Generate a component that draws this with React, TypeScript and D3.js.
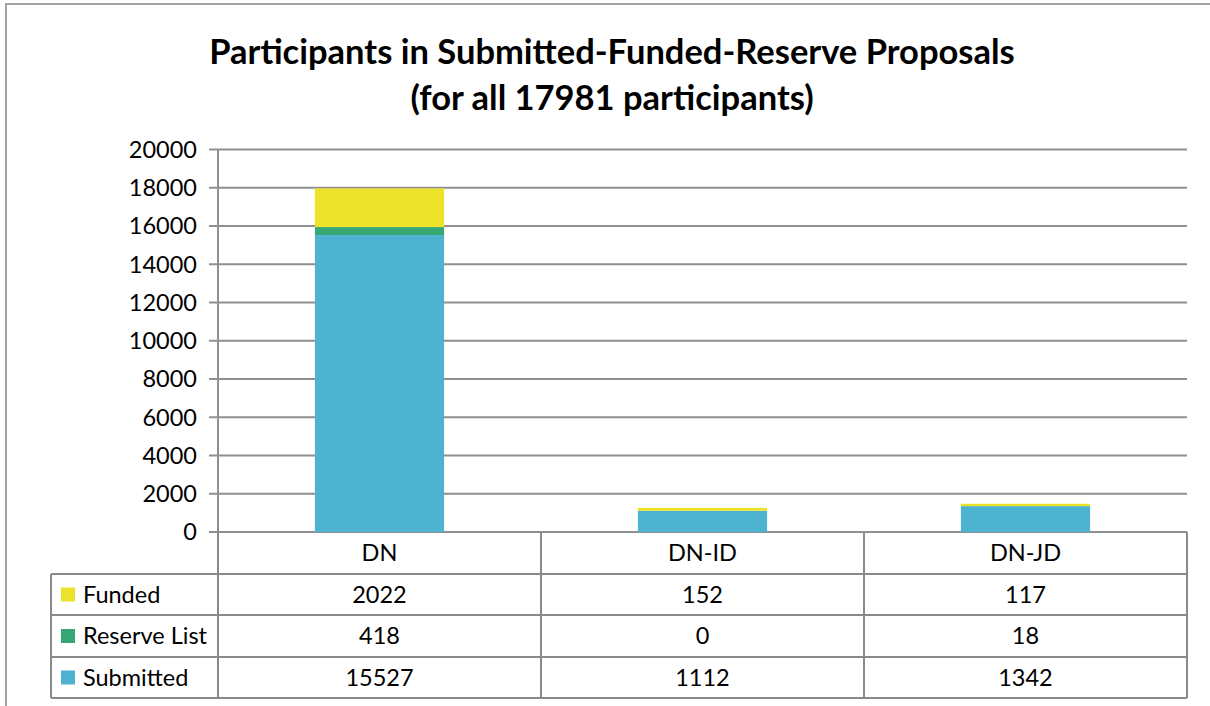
import React from "react";
import * as d3 from "d3";

const categories = ["DN", "DN-ID", "DN-JD"];
const seriesNames = ["Funded", "Reserve List", "Submitted"];
const funded = [2022, 152, 117];
const reserve = [418, 0, 18];
const submitted = [15527, 1112, 1342];
const yTicks = [0, 2000, 4000, 6000, 8000, 10000, 12000, 14000, 16000, 18000, 20000];
const titleLines = ["Participants in Submitted-Funded-Reserve Proposals", "(for all 17981 participants)"];

const colors: Record<string, string> = {
  Funded: "#ECE229",
  "Reserve List": "#37A873",
  Submitted: "#4EB3D1",
};

const W = 1210;
const H = 706;
const FONT = "Lato, 'Noto Sans', sans-serif";
const FS = 23.5;

export default function App() {
  const plotL = 218;
  const plotR = 1187;
  const y0 = 532;
  const yTop = 149.5;
  const x = d3.scaleBand<string>().domain(categories).range([plotL, plotR]).padding(0);
  const y = d3.scaleLinear().domain([0, 20000]).range([y0, yTop]);
  const barW = x.bandwidth() * 0.4;

  const valuesBy: Record<string, number[]> = {
    Funded: funded,
    "Reserve List": reserve,
    Submitted: submitted,
  };
  const rows = categories.map((c, i) => ({
    cat: c,
    Submitted: submitted[i],
    "Reserve List": reserve[i],
    Funded: funded[i],
  }));
  const stack = d3.stack<any>().keys(["Submitted", "Reserve List", "Funded"]);
  const stacked = stack(rows);

  const gridColor = "#8f8f8f";
  const tableColor = "#8a8a8a";
  const rowYs = [532, 574, 615, 657, 698];
  const tableLeft = 51;
  const colXs = [plotL, ...categories.map((c) => (x(c) as number) + x.bandwidth())];
  const dy = FS * 0.36;

  return (
    <svg
      width={W}
      height={H}
      style={{ position: "absolute", left: 0, top: 0, background: "#fff" }}
      fontFamily={FONT}
    >
      <rect x={0} y={0} width={W} height={H} fill="#fff" />
      <rect x={6} y={4} width={W + 20} height={H + 20} fill="none" stroke="#a3a3a3" strokeWidth={2} />

      {titleLines.map((t, i) => (
        <text
          key={i}
          x={612}
          y={64 + i * 46}
          textAnchor="middle"
          fontSize={34.5}
          fontWeight="bold"
          fill="#000"
        >
          {t}
        </text>
      ))}

      {yTicks.map((t) => (
        <g key={t}>
          <line x1={209} x2={plotR} y1={y(t)} y2={y(t)} stroke={gridColor} strokeWidth={2} />
          <text x={197} y={y(t) + dy} textAnchor="end" fontSize={FS} fill="#000">
            {t}
          </text>
        </g>
      ))}

      {stacked.map((s) => (
        <g key={s.key}>
          {s.map((d, i) => {
            const top = y(d[1]);
            const bot = y(d[0]);
            const cx = (x(categories[i]) as number) + x.bandwidth() / 2;
            if (bot - top <= 0) return null;
            return (
              <rect
                key={i}
                x={cx - barW / 2}
                y={top}
                width={barW}
                height={bot - top}
                fill={colors[s.key]}
              />
            );
          })}
        </g>
      ))}

      <line x1={plotL} x2={plotL} y1={yTop} y2={y0} stroke={gridColor} strokeWidth={2} />

      {rowYs.slice(1).map((ry, i) => (
        <line key={"h" + i} x1={tableLeft} x2={plotR} y1={ry} y2={ry} stroke={tableColor} strokeWidth={2} />
      ))}
      {colXs.map((cx, i) => (
        <line key={"v" + i} x1={cx} x2={cx} y1={rowYs[0]} y2={rowYs[4]} stroke={tableColor} strokeWidth={2} />
      ))}
      <line x1={tableLeft} x2={tableLeft} y1={rowYs[1]} y2={rowYs[4]} stroke={tableColor} strokeWidth={2} />

      {categories.map((c) => (
        <text
          key={c}
          x={(x(c) as number) + x.bandwidth() / 2}
          y={(rowYs[0] + rowYs[1]) / 2 + dy}
          textAnchor="middle"
          fontSize={FS}
          fill="#000"
        >
          {c}
        </text>
      ))}

      {seriesNames.map((name, r) => {
        const cy = (rowYs[r + 1] + rowYs[r + 2]) / 2;
        return (
          <g key={name}>
            <rect x={61} y={cy - 7} width={14} height={14} fill={colors[name]} />
            <text x={83} y={cy + dy} fontSize={FS} fill="#000">
              {name}
            </text>
            {categories.map((c, i) => (
              <text
                key={c}
                x={(x(c) as number) + x.bandwidth() / 2}
                y={cy + dy}
                textAnchor="middle"
                fontSize={FS}
                fill="#000"
              >
                {valuesBy[name][i]}
              </text>
            ))}
          </g>
        );
      })}
    </svg>
  );
}
